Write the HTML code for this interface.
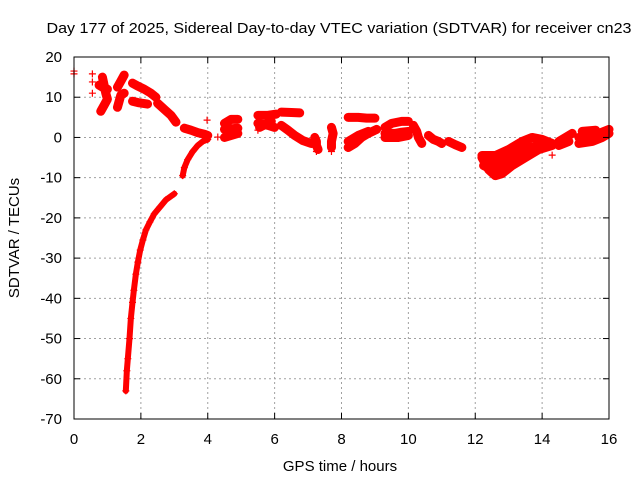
<!DOCTYPE html>
<html><head><meta charset="utf-8"><style>
html,body{margin:0;padding:0;background:#fff}
svg{display:block;font-family:"Liberation Sans",sans-serif}
</style></head><body>
<svg id="chart" width="640" height="480" viewBox="0 0 640 480" xmlns="http://www.w3.org/2000/svg">
<rect width="640" height="480" fill="#fff"/>
<text x="339" y="33" font-size="15" text-anchor="middle" textLength="585" lengthAdjust="spacingAndGlyphs" fill="#000">Day 177 of 2025, Sidereal Day-to-day VTEC variation (SDTVAR) for receiver cn23</text>
<g id="grid"></g><g id="marks"></g><g id="axes"></g>
<text x="340" y="471" font-size="15" text-anchor="middle">GPS time / hours</text>
<text transform="translate(19,238) rotate(-90)" font-size="15" text-anchor="middle">SDTVAR / TECUs</text>
</svg>
<script>
const xTicks=[0,2,4,6,8,10,12,14,16];
const yTicks=[20,10,0,-10,-20,-30,-40,-50,-60,-70];
const isolatedT=[0,0,0.55,0.55,0.55,3.98,4.3,14.3,5.5,7.25,7.7];
const isolatedV=[16.5,15.8,15.8,13.8,11,4.3,0.1,-4.4,1.8,-3.5,-3.5];
const tracks=[
 [[0.85,15],[0.9,13],[0.95,11],[1.0,9.5],[0.9,8],[0.8,6.5]],
 [[0.75,13],[0.85,12.5],[1.0,12]],
 [[1.3,12.5],[1.4,14],[1.5,15.5]],
 [[1.3,7.5],[1.35,9],[1.4,10.5],[1.5,11]],
 [[1.75,13.5],[1.9,12.8],[2.1,12],[2.3,11],[2.45,10]],
 [[1.75,9],[1.95,8.6],[2.2,8.3]],
 [[2.5,8.5],[2.7,7],[2.9,5.5],[3.05,3.8]],
 [[1.55,-63],[1.58,-58],[1.61,-55],[1.66,-50],[1.70,-45],[1.75,-41],[1.79,-38],[1.85,-34],[1.91,-31],[1.98,-28],[2.06,-25.5],[2.15,-23],[2.27,-21],[2.4,-19],[2.57,-17.3],[2.75,-15.5],[3.0,-14]],
 [[3.25,-9.5],[3.3,-7.5],[3.4,-5.5],[3.55,-3.5],[3.7,-2],[3.85,-1],[4.0,-0.5]],
 [[3.3,2.3],[3.5,1.8],[3.7,1.2],[3.9,0.8],[4.0,0.5]],
 [[4.5,3.5],[4.7,4.5],[4.9,4.5]],
 [[4.5,0],[4.7,0.5],[4.9,1]],
 [[4.5,2],[4.9,2.3]],
 [[5.5,5.5],[5.8,5.5],[6.05,5.8]],
 [[5.5,3.5],[5.8,3],[6.0,2.5]],
 [[5.55,2.5],[5.9,4]],
 [[6.2,6.3],[6.5,6.2],[6.75,6.1]],
 [[6.2,3],[6.4,1.8],[6.6,0.5],[6.85,-0.8],[7.1,-1.5]],
 [[7.2,0],[7.25,-1],[7.25,-2],[7.3,-3]],
 [[7.7,2.5],[7.75,1],[7.7,-1],[7.7,-2.5]],
 [[8.2,5],[8.5,5],[8.75,4.8],[9.0,4.8]],
 [[8.2,-2.5],[8.4,-1.5],[8.6,0],[8.8,1],[9.05,2]],
 [[8.2,-1],[8.5,0.5],[8.8,1.5]],
 [[9.3,2.5],[9.5,3.5],[9.8,4],[10.0,4]],
 [[9.3,1],[9.6,1],[9.8,1.3],[10.0,1.5]],
 [[9.3,0],[9.7,0],[10,0.5]],
 [[10.15,3],[10.25,1.5],[10.3,0],[10.4,-1.5]],
 [[10.6,0.5],[10.75,-0.5],[10.9,-1],[11.0,-1.5]],
 [[11.2,-1],[11.4,-1.8],[11.6,-2.5]],
 [[12.2,-5],[12.4,-8],[12.6,-9.5],[12.8,-9],[13.1,-7],[13.5,-5],[13.9,-3],[14.3,-2]],
 [[12.2,-4.5],[12.6,-4.5],[13.0,-3],[13.4,-1],[13.7,0],[14.0,-0.5],[14.3,-1.5]],
 [[12.3,-6],[12.7,-6.5],[13.1,-4.5],[13.6,-2.5],[14.2,-1.5]],
 [[12.25,-7],[12.5,-8],[12.9,-7.5],[13.3,-5.5]],
 [[14.5,-1],[14.7,0],[14.9,1]],
 [[14.5,-2],[14.8,-1]],
 [[15.1,0],[15.4,0.5],[15.7,1],[16,2]],
 [[15.1,-1.5],[15.5,-1],[15.8,0],[16,1]],
 [[15.2,1.5],[15.6,1.8]]
];
const X0=74,X1=609,Y0=57,Y1=419;
const xs=t=>X0+(t-0)/(16-0)*(X1-X0);
const ys=v=>Y1-(v-(-70))/(20-(-70))*(Y1-Y0);
const NS="http://www.w3.org/2000/svg";
function mk(tag,attrs,parent){const e=document.createElementNS(NS,tag);for(const k in attrs)e.setAttribute(k,attrs[k]);parent.appendChild(e);return e;}
const grid=document.getElementById('grid'),marks=document.getElementById('marks'),axes=document.getElementById('axes');
xTicks.forEach(t=>{
 if(t>0&&t<16){const g=mk('line',{x1:xs(t),x2:xs(t),y1:Y0,y2:Y1,stroke:'#a0a0a0','stroke-dasharray':'2,3'},grid);
 
 }
 mk('line',{x1:xs(t),x2:xs(t),y1:Y1,y2:Y1-6,stroke:'#000'},axes);
 mk('line',{x1:xs(t),x2:xs(t),y1:Y0,y2:Y0+6,stroke:'#000'},axes);
 const l=mk('text',{x:xs(t),y:444,'font-size':15,'text-anchor':'middle'},axes);l.textContent=t;
 
 
});
yTicks.forEach(v=>{
 if(v<20&&v>-70){const g=mk('line',{x1:X0,x2:X1,y1:ys(v),y2:ys(v),stroke:'#a0a0a0','stroke-dasharray':'2,3'},grid);
 
 }
 mk('line',{x1:X0,x2:X0+6,y1:ys(v),y2:ys(v),stroke:'#000'},axes);
 mk('line',{x1:X1,x2:X1-6,y1:ys(v),y2:ys(v),stroke:'#000'},axes);
 const l=mk('text',{x:62,y:ys(v)+5,'font-size':15,'text-anchor':'end'},axes);l.textContent=v;
 
 
});
const fr=mk('rect',{x:X0,y:Y0,width:X1-X0,height:Y1-Y0,fill:'none',stroke:'#000'},axes);


function plus(t,v){const x=xs(t),y=ys(v);mk('path',{d:`M${x-3.5},${y}h7M${x},${y-3.5}v7`,stroke:'#f00','stroke-width':1.2},marks);}
tracks.forEach((tr,i)=>{
 const w=(i===7||i===8)?6:9;
 const p=mk('polyline',{points:tr.map(d=>xs(d[0])+','+ys(d[1])).join(' '),fill:'none',stroke:'#f00','stroke-width':w,'stroke-linejoin':'round','stroke-linecap':'round'},marks);
 
 
 tr.forEach(d=>plus(d[0],d[1]));
});
isolatedT.forEach((t,i)=>plus(t,isolatedV[i]));
</script>
</body></html>
